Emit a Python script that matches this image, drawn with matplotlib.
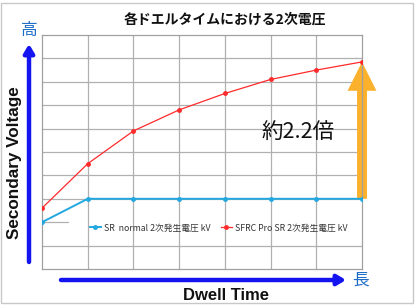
import matplotlib
matplotlib.use("Agg")
import matplotlib.pyplot as plt
from matplotlib.patches import Rectangle, FancyArrowPatch

# Data (grid units)
dwell = [0, 1, 2, 3, 4, 5, 6, 7]
sr_normal = [2.0, 3.0, 3.0, 3.0, 3.0, 3.0, 3.0, 3.0]
sfrc_pro = [2.6, 4.5, 5.9, 6.8, 7.5, 8.1, 8.5, 8.85]
label_normal = "SR  normal 2次発生電圧 kV"
label_sfrc = "SFRC Pro SR 2次発生電圧 kV"
title = "各ドエルタイムにおける2次電圧"
ratio_text = "約2.2倍"

JP = ["Noto Sans CJK JP", "DejaVu Sans"]
EN = ["Liberation Sans", "DejaVu Sans"]

fig = plt.figure(figsize=(4.19, 3.07), dpi=100)
fig.patch.set_facecolor("white")
# outer frame
fig.patches.append(Rectangle((1/419, 1-303/307), 412/419, 300/307, transform=fig.transFigure,
                             fill=False, edgecolor="#c8c8c8", linewidth=1.0))

ax = fig.add_axes([42/419, 1-269/307, 320/419, 234/307])
ax.set_xlim(0, 7)
ax.set_ylim(0, 10)
ax.set_xticks([])
ax.set_yticks([])
for s in ax.spines.values():
    s.set_color("#a0a0a0")
    s.set_linewidth(0.9)

grid_c = "#b0b0b0"
for xv in range(1, 7):
    ax.axvline(xv, color=grid_c, lw=0.9, zorder=0)
for yv in range(1, 10):
    if yv == 2:
        ax.axhline(yv, xmin=0, xmax=0.08, color=grid_c, lw=0.9, zorder=0)
    else:
        ax.axhline(yv, color=grid_c, lw=0.9, zorder=0)

ax.plot(dwell, sr_normal, color="#22a8e0", lw=1.4, marker="o", ms=2.5, label=label_normal, zorder=3)
ax.plot(dwell, sfrc_pro, color="#ff2a2a", lw=0.9, marker="o", ms=2.5, label=label_sfrc, zorder=3)

# orange arrow from normal to sfrc at last point
arr = FancyArrowPatch((dwell[-1], sr_normal[-1]), (dwell[-1], sfrc_pro[-1]),
                      arrowstyle="simple,head_width=1.6,head_length=1.6,tail_width=0.55",
                      mutation_scale=13, color="#fbb12c", lw=0, zorder=2, clip_on=False,
                      shrinkA=0, shrinkB=0)
ax.add_patch(arr)

ax.text(5.6, 5.8, ratio_text, fontsize=15.5, family=JP, ha="center", va="center", color="#111111")

leg = ax.legend(loc="center left", bbox_to_anchor=(0.135, 0.175), ncol=2, frameon=False,
                prop={"family": JP, "size": 6.3}, handlelength=1.3, handletextpad=0.3,
                columnspacing=1.2, borderpad=0)
for t in leg.get_texts():
    t.set_color("#333333")

fig.text(225/419, 1-20/307, title, fontsize=10, fontweight="bold", family=JP,
         ha="center", va="center", color="#111111")

# Axis arrows
fig.patches.append(FancyArrowPatch((29/419, 1-262/307), (29/419, 1-44/307), transform=fig.transFigure,
                                   arrowstyle="-|>,head_width=3,head_length=5", mutation_scale=1,
                                   color="#1414f0", lw=3.2, shrinkA=0, shrinkB=0))
fig.patches.append(FancyArrowPatch((61/419, 1-280/307), (346/419, 1-280/307), transform=fig.transFigure,
                                   arrowstyle="-|>,head_width=3,head_length=5", mutation_scale=1,
                                   color="#1414f0", lw=3.2, shrinkA=0, shrinkB=0))
fig.text(29/419, 1-30/307, "高", fontsize=12, family=JP, color="#1e6ec8", ha="center", va="center")
fig.text(360/419, 1-280/307, "長", fontsize=12, family=JP, color="#1e6ec8", ha="center", va="center")
fig.text(15/419, 1-163/307, "Secondary Voltage", fontsize=12.3, fontweight="bold", family=EN,
         rotation=90, ha="center", va="center", color="#111111")
fig.text(226/419, 1-295/307, "Dwell Time", fontsize=12, fontweight="bold", family=EN,
         ha="center", va="center", color="#111111")

fig.savefig("out.png", dpi=100)
